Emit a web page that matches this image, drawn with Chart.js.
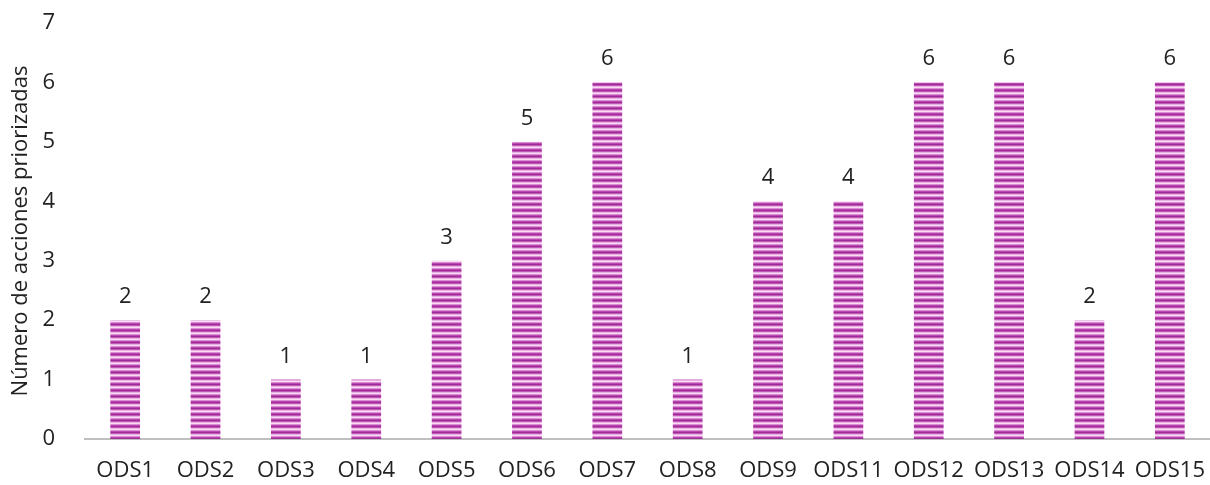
<!DOCTYPE html>
<html><head><meta charset="utf-8">
<script src="https://cdn.jsdelivr.net/npm/chart.js@4"></script>
<style>html,body{margin:0;padding:0;background:#fff;overflow:hidden}#wrap{width:1210px;height:485px}</style>
</head><body><div id="wrap"><canvas id="c"></canvas></div>
<script>
const categories = ["ODS1","ODS2","ODS3","ODS4","ODS5","ODS6","ODS7","ODS8","ODS9","ODS11","ODS12","ODS13","ODS14","ODS15"];
const values = [2,2,1,1,3,5,6,1,4,4,6,6,2,6];
const yTicks = [0,1,2,3,4,5,6,7];

function makePattern(){
  const p = document.createElement('canvas');
  p.width = 4; p.height = 6;
  const g = p.getContext('2d');
  const rows = ['#a02a96','#c058b8','#eab0e4','#f8dcf4','#dc8cd4','#b848b0'];
  rows.forEach((c,i)=>{g.fillStyle=c; g.fillRect(0,i,4,1);});
  return document.getElementById('c').getContext('2d').createPattern(p,'repeat');
}
const FONT = "'Open Sans', 'DejaVu Sans', sans-serif";
const labelPlugin = {
  id:'vals',
  afterDatasetsDraw(chart){
    const ctx = chart.ctx;
    const meta = chart.getDatasetMeta(0);
    ctx.save();
    ctx.fillStyle = '#222';
    ctx.font = "22px " + FONT;
    ctx.textAlign = 'center';
    ctx.textBaseline = 'alphabetic';
    meta.data.forEach((b,i)=>{ ctx.fillText(String(values[i]), b.x, b.y - 17); });
    ctx.restore();
  }
};
new Chart(document.getElementById('c'), {
  type:'bar',
  data:{labels:categories, datasets:[{data:values, backgroundColor:makePattern(), borderWidth:0, categoryPercentage:1, barPercentage:0.37}]},
  options:{
    responsive:true, maintainAspectRatio:false, animation:false,
    layout:{padding:{top:23,right:0,left:0,bottom:0}},
    plugins:{legend:{display:false}, tooltip:{enabled:false}},
    scales:{
      x:{grid:{display:false, drawTicks:false}, border:{display:true, color:'#bfbfbf', width:2},
         ticks:{color:'#222', font:{size:22, family:FONT}, padding:19, maxRotation:0, minRotation:0, autoSkip:false},
         afterFit(s){ s.height = 46; s.paddingLeft = 0; s.paddingRight = 0; }},
      y:{min:0, max:7, afterBuildTicks(ax){ax.ticks = yTicks.map(v=>({value:v}));},
         grid:{display:false, drawTicks:false}, border:{display:false},
         ticks:{color:'#222', font:{size:22, family:FONT}, padding:30},
         title:{display:true, text:'Número de acciones priorizadas', color:'#222', font:{size:22, family:FONT}, padding:{top:8,bottom:0}},
         afterFit(s){ s.width = 85; s.paddingTop = 0; s.paddingBottom = 0; }}
    }
  },
  plugins:[labelPlugin]
});
</script></body></html>
